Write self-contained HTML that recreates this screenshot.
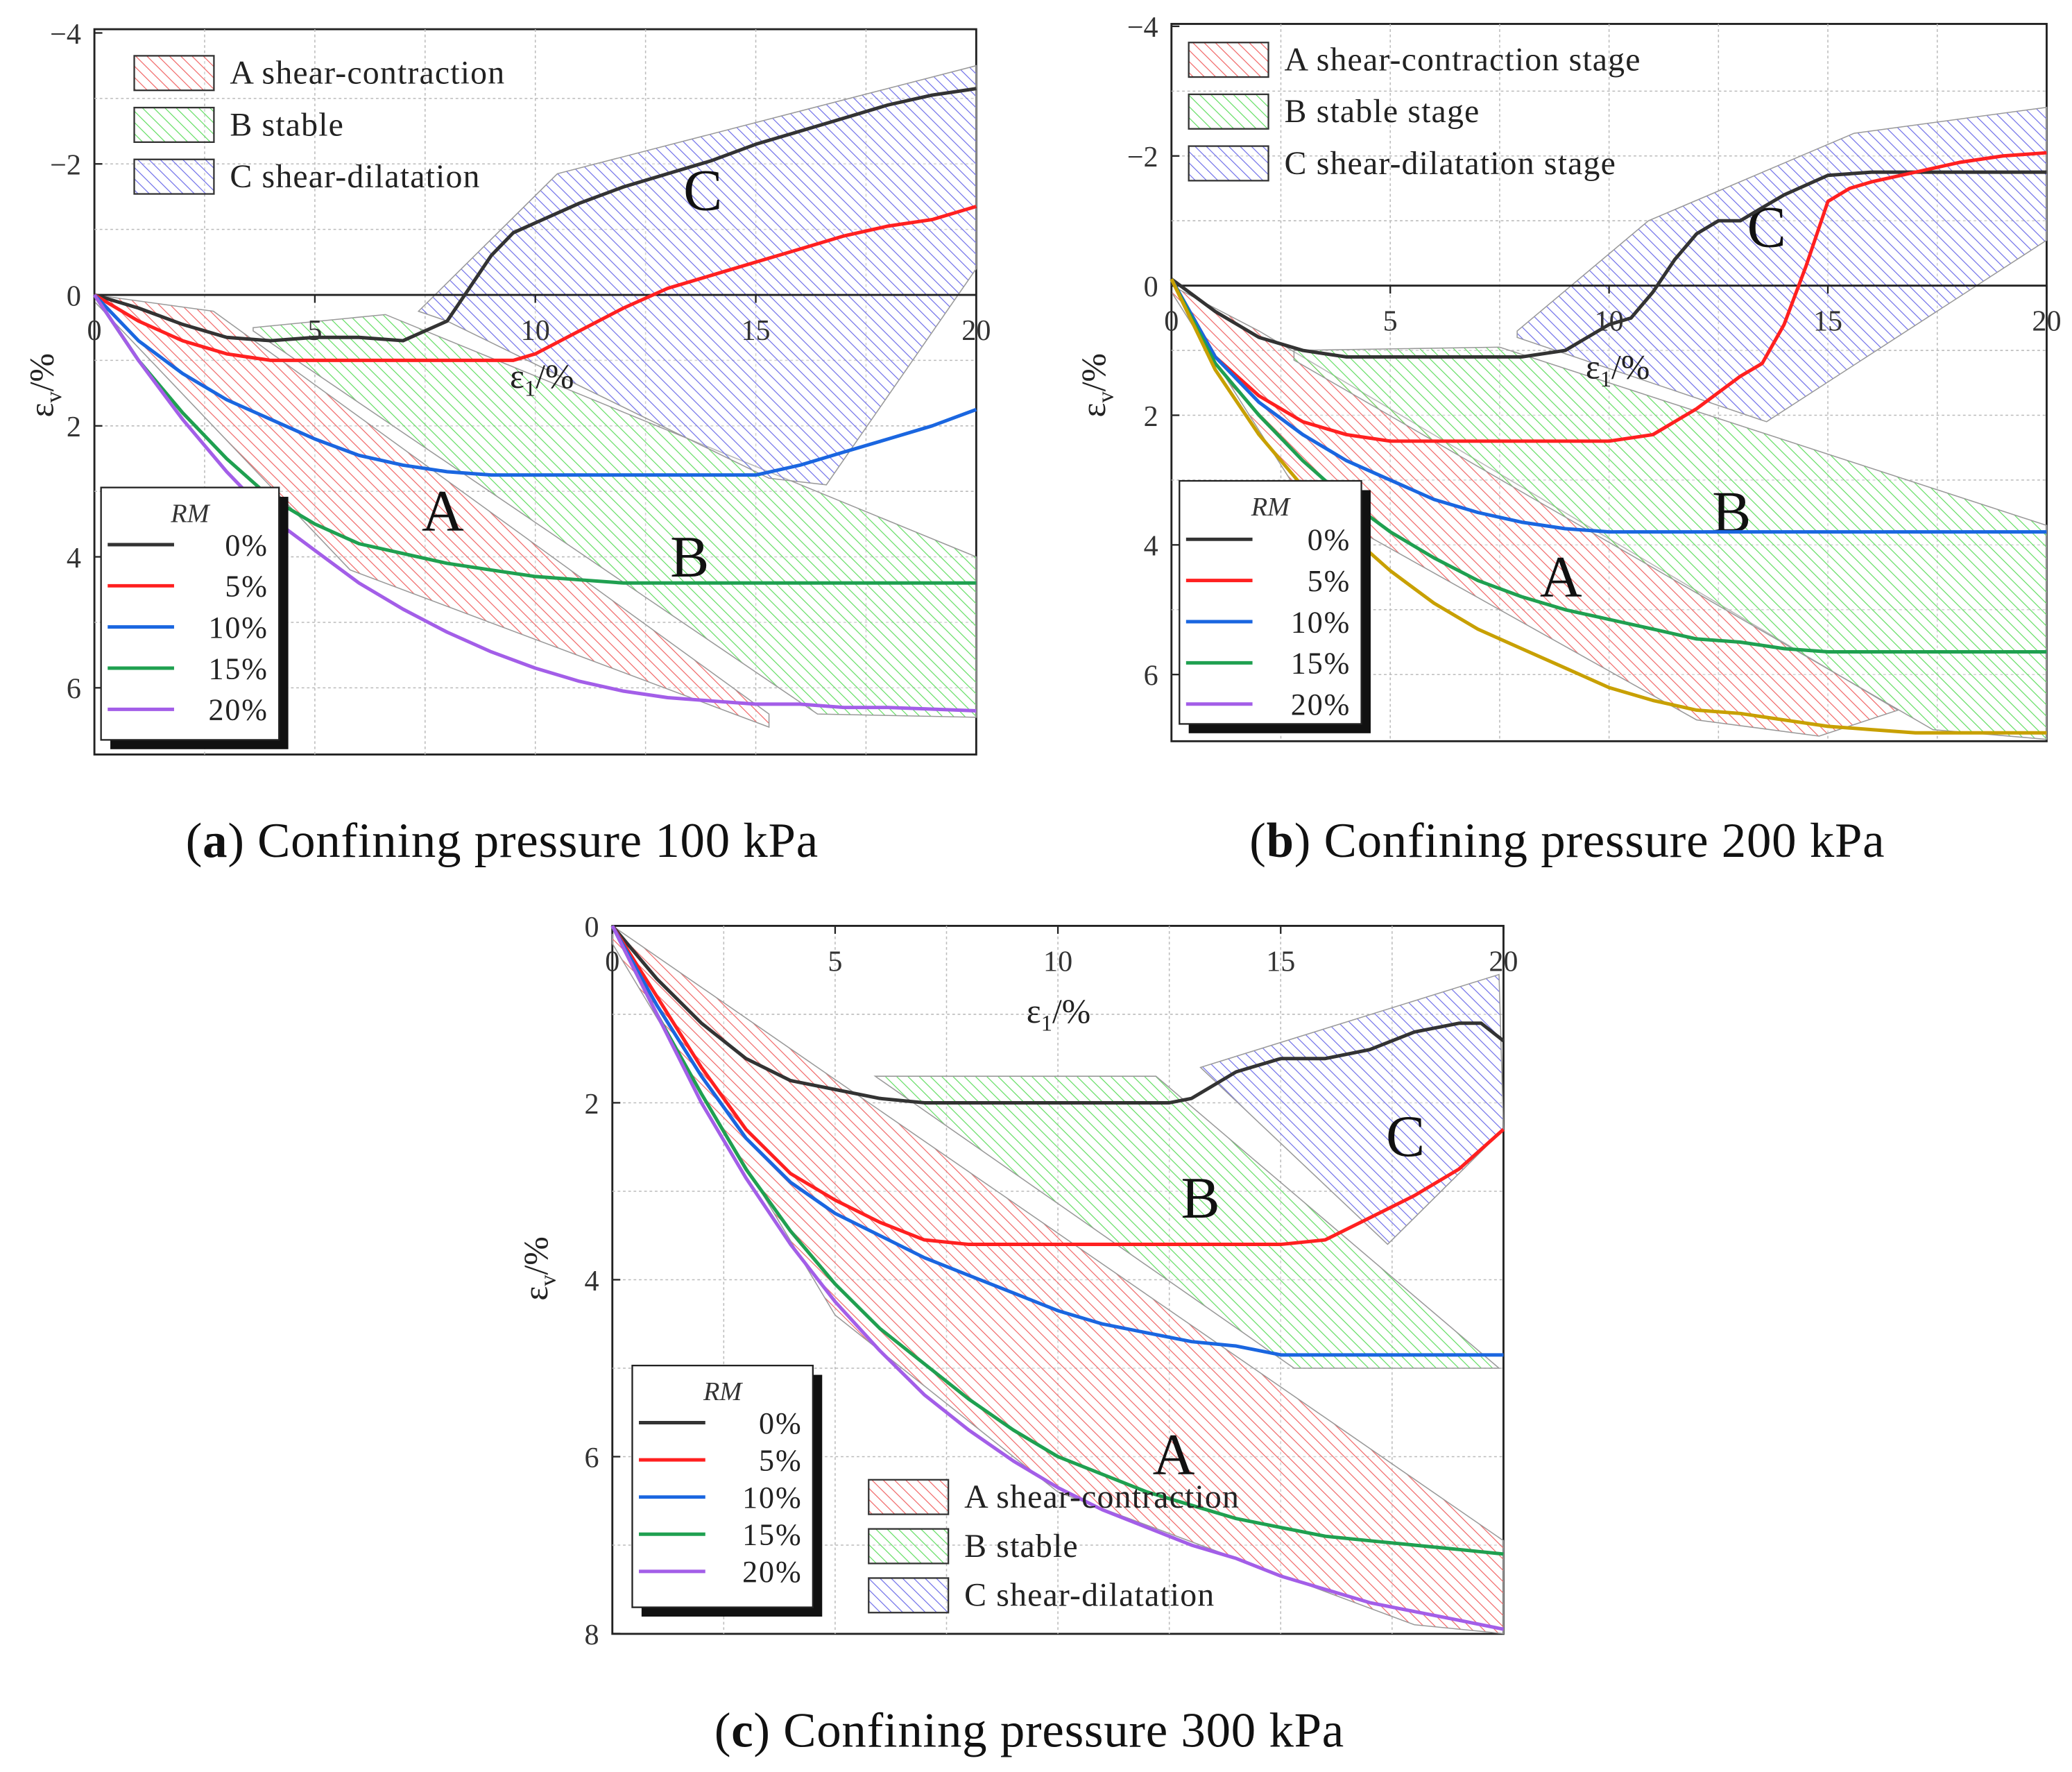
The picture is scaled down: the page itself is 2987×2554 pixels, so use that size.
<!DOCTYPE html>
<html><head><meta charset="utf-8">
<style>
html,body{margin:0;padding:0;background:#fff}
svg{display:block}
text{font-family:"Liberation Serif",serif}
</style></head>
<body>
<svg id="fig" width="2987" height="2554" viewBox="0 0 1560 1334" xmlns="http://www.w3.org/2000/svg">
<defs>
<pattern id="hr" patternUnits="userSpaceOnUse" width="6" height="6" patternTransform="rotate(-45)"><rect width="6" height="6" fill="#fff" fill-opacity="0.3"/><line x1="0" y1="0" x2="0" y2="6" stroke="#f06060" stroke-width="1.2"/></pattern>
<pattern id="hg" patternUnits="userSpaceOnUse" width="6" height="6" patternTransform="rotate(-45)"><rect width="6" height="6" fill="#fff" fill-opacity="0.3"/><line x1="0" y1="0" x2="0" y2="6" stroke="#5ddc5d" stroke-width="1.2"/></pattern>
<pattern id="hb" patternUnits="userSpaceOnUse" width="6" height="6" patternTransform="rotate(-45)"><rect width="6" height="6" fill="#fff" fill-opacity="0.3"/><line x1="0" y1="0" x2="0" y2="6" stroke="#6a6ae8" stroke-width="1.2"/></pattern>
</defs>
</svg>
<script>
// ---------- DATA ----------
const rmLabels = ["0%","5%","10%","15%","20%"];
const xTicks = [0,5,10,15,20];
const yTicksA = [-4,-2,0,2,4,6];
const yTicksB = [-4,-2,0,2,4,6];
const yTicksC = [0,2,4,6,8];
const regionNames = ["A  shear-contraction","B  stable","C shear-dilatation"];
const regionNamesB = ["A shear-contraction stage","B stable stage","C shear-dilatation stage"];

// Panel a (100 kPa)
const a0x=[0,1,2,3,4,5,6,7,8,8.5,9,9.5,10,11,12,13,14,15,16,17,18,19,20];
const a0y=[0,0.2,0.45,0.65,0.7,0.65,0.65,0.7,0.4,-0.1,-0.6,-0.95,-1.1,-1.4,-1.65,-1.85,-2.05,-2.3,-2.5,-2.7,-2.9,-3.05,-3.15];
const a5x=[0,1,2,3,4,6,8,9.5,10,11,12,13,14,15,16,17,18,19,20];
const a5y=[0,0.4,0.7,0.9,1.0,1.0,1.0,1.0,0.9,0.55,0.2,-0.1,-0.3,-0.5,-0.7,-0.9,-1.05,-1.15,-1.35];
const a10x=[0,1,2,3,4,5,6,7,8,9,15,16,17,18,19,20];
const a10y=[0,0.7,1.2,1.6,1.9,2.2,2.45,2.6,2.7,2.75,2.75,2.6,2.4,2.2,2.0,1.75];
const a15x=[0,1,2,3,4,5,6,7,8,9,10,11,12,20];
const a15y=[0,1.0,1.8,2.5,3.1,3.5,3.8,3.95,4.1,4.2,4.3,4.35,4.4,4.4];
const a20x=[0,1,2,3,4,5,6,7,8,9,10,11,12,13,14,15,16,17,18,20];
const a20y=[0,1.0,1.9,2.7,3.4,3.9,4.4,4.8,5.15,5.45,5.7,5.9,6.05,6.15,6.2,6.25,6.25,6.3,6.3,6.35];
const aRegA=[[0,0],[2.7,0.25],[15.3,6.4],[15.3,6.6],[5.8,4.2],[0,0.1]];
const aRegB=[[3.6,0.5],[6.6,0.3],[20,4.0],[20,6.45],[16.4,6.4],[3.6,0.55]];
const aRegC=[[7.35,0.25],[10.5,-1.85],[20,-3.5],[20,-0.4],[16.6,2.9],[15.3,2.8],[8,0.4]];

// Panel b (200 kPa)
const b0x=[0,1,2,3,4,5,8,9,10,10.5,11,11.5,12,12.5,13,13.5,14,15,16,20];
const b0y=[-0.1,0.4,0.8,1.0,1.1,1.1,1.1,1.0,0.6,0.5,0.1,-0.4,-0.8,-1.0,-1.0,-1.2,-1.4,-1.7,-1.75,-1.75];
const b5x=[0,1,2,3,4,5,10,11,12,13,13.5,14,14.5,15,15.5,16,17,18,19,20];
const b5y=[-0.1,1.1,1.7,2.1,2.3,2.4,2.4,2.3,1.9,1.4,1.2,0.6,-0.3,-1.3,-1.5,-1.6,-1.75,-1.9,-2.0,-2.05];
const b10x=[0,1,2,3,4,5,6,7,8,9,10,20];
const b10y=[-0.1,1.1,1.8,2.3,2.7,3.0,3.3,3.5,3.65,3.75,3.8,3.8];
const b15x=[0,1,2,3,4,5,6,7,8,9,10,11,12,13,14,15,20];
const b15y=[-0.1,1.2,2.0,2.7,3.3,3.8,4.2,4.55,4.8,5.0,5.15,5.3,5.45,5.5,5.6,5.65,5.65];
const b20x=[0,1,2,3,4,5,6,7,8,9,10,11,12,13,14,15,16,17,20];
const b20y=[-0.1,1.3,2.3,3.1,3.8,4.4,4.9,5.3,5.6,5.9,6.2,6.4,6.55,6.6,6.7,6.8,6.85,6.9,6.9];
const bRegA=[[0,0],[2,0.7],[16.6,6.55],[14.8,6.95],[12,6.7],[3,3.3],[0,0.1]];
const bRegB=[[2.8,1.0],[7.5,0.95],[20,3.7],[20,7.0],[17.4,6.85],[2.8,1.15]];
const bRegC=[[7.9,0.7],[10.9,-1.0],[15.6,-2.35],[20,-2.75],[20,-0.7],[13.6,2.1],[7.9,0.8]];

// Panel c (300 kPa)
const c0x=[0,1,2,3,4,5,6,7,12.5,13,13.5,14,15,16,17,18,19,19.5,20];
const c0y=[0,0.6,1.1,1.5,1.75,1.85,1.95,2.0,2.0,1.95,1.8,1.65,1.5,1.5,1.4,1.2,1.1,1.1,1.3];
const c5x=[0,1,2,3,4,5,6,7,8,15,16,17,18,19,20];
const c5y=[0,0.8,1.6,2.3,2.8,3.1,3.35,3.55,3.6,3.6,3.55,3.3,3.05,2.75,2.3];
const c10x=[0,1,2,3,4,5,6,7,8,9,10,11,12,13,14,15,16,20];
const c10y=[0,0.9,1.7,2.4,2.9,3.25,3.5,3.75,3.95,4.15,4.35,4.5,4.6,4.7,4.75,4.85,4.85,4.85];
const c15x=[0,1,2,3,4,5,6,7,8,9,10,11,12,13,14,15,16,17,18,19,20];
const c15y=[0,1.0,1.9,2.75,3.45,4.05,4.55,4.95,5.35,5.7,6.0,6.2,6.4,6.55,6.7,6.8,6.9,6.95,7.0,7.05,7.1];
const c20x=[0,1,2,3,4,5,6,7,8,9,10,11,12,13,14,15,16,17,18,19,20];
const c20y=[0,1.0,2.0,2.85,3.6,4.25,4.8,5.3,5.7,6.05,6.35,6.6,6.8,7.0,7.15,7.35,7.5,7.65,7.75,7.85,7.95];
const cRegA=[[0,0],[20,6.95],[20,8.0],[18,7.9],[10,6.4],[5,4.4],[0,0.2]];
const cRegB=[[5.9,1.7],[12.2,1.7],[19.9,5.0],[15.3,5.0]];
const cRegC=[[13.2,1.6],[19.9,0.55],[20,2.3],[17.4,3.6]];

// ---------- DRAWING ----------
const NS="http://www.w3.org/2000/svg";
const svg=document.getElementById('fig');
function mk(tag,attrs,parent,txt){const e=document.createElementNS(NS,tag);for(const k in attrs)e.setAttribute(k,attrs[k]);if(txt!==undefined)e.textContent=txt;(parent||svg).appendChild(e);return e;}
const colors=["#333","#ff2020","#1a66e0","#1fa050","#a35ee8"];

function panel(p){
  const g=mk('g',{});
  
  
  const sx=v=>p.x0+(v-0)*(p.x1-p.x0)/20;
  const sy=v=>p.yz+v*p.ky;
  const box=mk('rect',{x:p.x0,y:p.top,width:p.x1-p.x0,height:p.bot-p.top,fill:'#fff',stroke:'#222','stroke-width':1.5},g);
  
  
  for(let v=2.5;v<20;v+=2.5){mk('line',{x1:sx(v),x2:sx(v),y1:p.top,y2:p.bot,stroke:'#bbb','stroke-dasharray':'2,2','stroke-width':0.8},g);}
  for(let v=p.ymin+1;v<p.ymax;v+=1){if(v===0&&p.zeroLine)continue;mk('line',{x1:p.x0,x2:p.x1,y1:sy(v),y2:sy(v),stroke:'#bbb','stroke-dasharray':'2,2','stroke-width':0.8},g);}
  const regs=[[p.regA,'url(#hr)','region-a'],[p.regB,'url(#hg)','region-b'],[p.regC,'url(#hb)','region-c']];
  regs.forEach(r=>{
    const poly=mk('polygon',{points:r[0].map(q=>sx(q[0])+','+sy(q[1])).join(' '),fill:r[1],stroke:'#999','stroke-width':0.8},g);
    
    
  });
  if(p.zeroLine){mk('line',{x1:p.x0,x2:p.x1,y1:sy(0),y2:sy(0),stroke:'#222','stroke-width':1.5},g);}
  xTicks.forEach(t=>{
    mk('line',{x1:sx(t),x2:sx(t),y1:p.xAxisY,y2:p.xAxisY+6,stroke:'#222','stroke-width':1.2},g);
    const tl=mk('text',{x:sx(t),y:p.xAxisY+34,'font-size':22,'text-anchor':'middle',fill:'#333'},g,String(t));
    
    
  });
  p.yTicks.forEach(t=>{
    mk('line',{x1:p.x0,x2:p.x0+6,y1:sy(t),y2:sy(t),stroke:'#222','stroke-width':1.2},g);
    const tl=mk('text',{x:p.x0-10,y:sy(t)+8,'font-size':22,'text-anchor':'end',fill:'#333'},g,t<0?'\u2212'+(-t):String(t));
    
    
  });
  const xt=mk('text',{x:p.xtX,y:p.xtY,'font-size':26,'text-anchor':'middle',fill:'#222'},g);
  
  
  xt.innerHTML='ε<tspan font-size="17" dy="6">1</tspan><tspan dy="-6">/%</tspan>';
  const yt=mk('text',{x:0,y:0,'font-size':26,'text-anchor':'middle',fill:'#222',transform:`translate(${p.ytX},${p.ytY}) rotate(-90)`},g);
  
  
  yt.innerHTML='ε<tspan font-size="17" dy="6">v</tspan><tspan dy="-6">/%</tspan>';
  [['A',p.lA],['B',p.lB],['C',p.lC]].forEach(l=>{
    const t=mk('text',{x:sx(l[1][0]),y:sy(l[1][1]),'font-size':44,'text-anchor':'middle',fill:'#111'},g,l[0]);
    
    
  });
  p.series.forEach((s,i)=>{
    const d=s[0].map((x,j)=>(j?'L':'M')+sx(x).toFixed(1)+','+sy(s[1][j]).toFixed(1)).join('');
    const c=mk('path',{d:d,fill:'none',stroke:s[2]||colors[i],'stroke-width':2.6,'stroke-linejoin':'round'},g);
    
    
  });
  const L=p.rm;
  const lg=mk('g',{},g);
  
  
  mk('rect',{x:L.x+7,y:L.y+7,width:L.w,height:L.h,fill:'#111'},lg);
  mk('rect',{x:L.x,y:L.y,width:L.w,height:L.h,fill:'#fff',stroke:'#222','stroke-width':1.2},lg);
  mk('text',{x:L.x+L.w*0.5,y:L.y+26,'font-size':20,'font-style':'italic','text-anchor':'middle',fill:'#333'},lg,'RM');
  rmLabels.forEach((r,i)=>{
    const yy=L.y+L.first+i*L.step;
    const e=mk('g',{},lg);
    
    
    mk('line',{x1:L.x+5,x2:L.x+55,y1:yy,y2:yy,stroke:colors[i],'stroke-width':2.6},e);
    mk('text',{x:L.x+L.w-8,y:yy+8,'font-size':23,'text-anchor':'end',fill:'#222','letter-spacing':1},e,r);
  });
  const R=p.rl;
  const fills=['url(#hr)','url(#hg)','url(#hb)'];
  R.names.forEach((n,i)=>{
    const yy=R.y+i*R.step;
    const e=mk('g',{},g);
    
    
    mk('rect',{x:R.x,y:yy,width:60,height:26,fill:fills[i],stroke:'#333','stroke-width':1.2},e);
    mk('text',{x:R.x+72,y:yy+21,'font-size':25,fill:'#222','letter-spacing':0.6},e,n);
  });
  const cap=mk('text',{x:p.capX,y:p.capY,'font-size':37,'text-anchor':'middle',fill:'#111','letter-spacing':0.4},g);
  
  
  cap.innerHTML='(<tspan font-weight="bold">'+p.id+'</tspan>) '+p.cap;
}

panel({id:'a',x0:71,x1:735,top:22,bot:568,yz:222,ky:49.3,ymin:-4,ymax:7,zeroLine:true,xAxisY:222,yTicks:yTicksA,
  xtX:408,xtY:292,ytX:40,ytY:290,lA:[7.9,3.6],lB:[13.5,4.3],lC:[13.8,-1.3],
  regA:aRegA,regB:aRegB,regC:aRegC,
  series:[[a0x,a0y],[a5x,a5y],[a10x,a10y],[a15x,a15y],[a20x,a20y]],
  rm:{x:76,y:367,w:134,h:190,first:43,step:31},
  rl:{x:101,y:42,step:39,names:regionNames},capX:378,capY:645,cap:'Confining pressure 100 kPa'});
panel({id:'b',x0:882,x1:1541,top:18,bot:558,yz:215,ky:48.8,ymin:-4,ymax:7,zeroLine:true,xAxisY:215,yTicks:yTicksB,
  xtX:1218,xtY:285,ytX:832,ytY:290,lA:[8.9,4.8],lB:[12.8,3.8],lC:[13.6,-0.6],
  regA:bRegA,regB:bRegB,regC:bRegC,
  series:[[b0x,b0y],[b5x,b5y],[b10x,b10y],[b15x,b15y],[b20x,b20y,'#c8a000']],
  rm:{x:888,y:362,w:137,h:183,first:44,step:31},
  rl:{x:895,y:32,step:39,names:regionNamesB},capX:1180,capY:645,cap:'Confining pressure 200 kPa'});
panel({id:'c',x0:461,x1:1132,top:697,bot:1230,yz:697,ky:66.6,ymin:0,ymax:8,zeroLine:false,xAxisY:697,yTicks:yTicksC,
  xtX:797,xtY:770,ytX:412,ytY:955,lA:[12.6,6.2],lB:[13.2,3.3],lC:[17.8,2.6],
  regA:cRegA,regB:cRegB,regC:cRegC,
  series:[[c0x,c0y],[c5x,c5y],[c10x,c10y],[c15x,c15y],[c20x,c20y]],
  rm:{x:476,y:1028,w:136,h:182,first:43,step:28},
  rl:{x:654,y:1114,step:37,names:regionNames},capX:775,capY:1315,cap:'Confining pressure 300 kPa'});
</script>
</body></html>
